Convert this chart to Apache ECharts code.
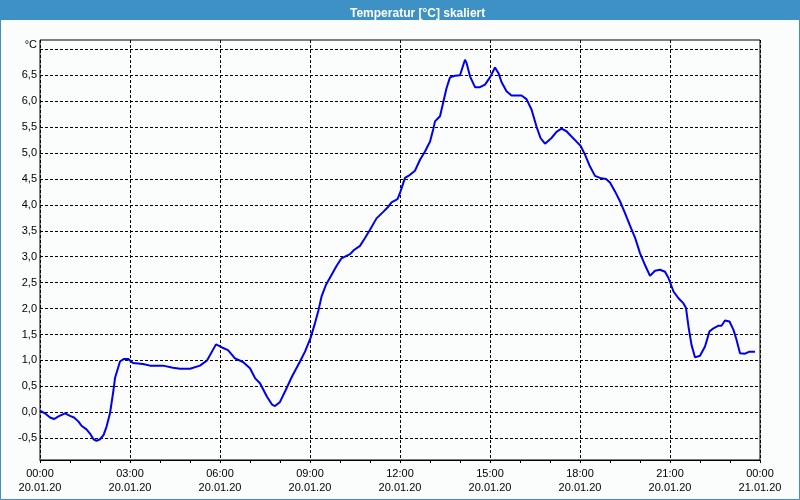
<!DOCTYPE html>
<html>
<head>
<meta charset="utf-8">
<script src="https://cdn.jsdelivr.net/npm/echarts@6/dist/echarts.min.js"></script>
<style>
html,body{margin:0;padding:0;background:#fafdfb;}
#c{width:800px;height:500px;}
</style>
</head>
<body>
<div id="c"></div>
<script>
// minutes since 20.01.20 00:00
var minutes = [0,10,20,28,37,50,60,68,77,83,93,100,107,113,120,127,133,140,147,150,160,168,176,186,206,220,246,266,280,300,320,334,352,364,376,390,406,420,430,440,454,464,470,480,490,504,520,530,541,550,557,563,572,583,593,603,620,628,640,650,660,673,687,697,703,715,720,730,740,750,760,770,780,787,790,800,807,813,820,830,840,850,853,860,870,880,890,900,910,917,923,933,943,963,973,983,993,1001,1010,1023,1033,1043,1053,1063,1073,1081,1090,1100,1110,1120,1132,1140,1150,1160,1170,1180,1190,1200,1210,1220,1230,1240,1250,1257,1267,1277,1287,1292,1297,1303,1310,1320,1330,1339,1347,1357,1363,1370,1379,1387,1393,1400,1410,1419,1430];
var temps = [0.03,-0.02,-0.10,-0.13,-0.08,-0.02,-0.07,-0.10,-0.18,-0.26,-0.33,-0.41,-0.52,-0.55,-0.52,-0.44,-0.28,-0.02,0.43,0.66,0.98,1.03,1.03,0.95,0.93,0.90,0.90,0.86,0.84,0.84,0.90,1.00,1.31,1.25,1.20,1.04,0.97,0.85,0.66,0.56,0.30,0.15,0.12,0.20,0.40,0.69,0.98,1.17,1.43,1.72,1.97,2.23,2.46,2.65,2.82,2.97,3.05,3.13,3.21,3.36,3.52,3.74,3.87,3.97,4.05,4.11,4.23,4.52,4.58,4.66,4.87,5.03,5.22,5.48,5.61,5.71,6.00,6.25,6.46,6.49,6.50,6.80,6.74,6.48,6.27,6.27,6.32,6.46,6.65,6.54,6.37,6.19,6.11,6.11,6.04,5.84,5.51,5.29,5.18,5.29,5.41,5.47,5.42,5.32,5.22,5.14,4.97,4.74,4.56,4.52,4.50,4.43,4.26,4.07,3.84,3.60,3.37,3.07,2.84,2.63,2.73,2.75,2.71,2.59,2.33,2.20,2.10,2.01,1.65,1.30,1.06,1.09,1.27,1.56,1.62,1.67,1.67,1.77,1.75,1.59,1.40,1.14,1.13,1.17,1.17];
var xTickTimes = ['00:00','03:00','06:00','09:00','12:00','15:00','18:00','21:00','00:00'];
var xTickDates = ['20.01.20','20.01.20','20.01.20','20.01.20','20.01.20','20.01.20','20.01.20','20.01.20','21.01.20'];
var yTickValues = [-0.5,0,0.5,1,1.5,2,2.5,3,3.5,4,4.5,5,5.5,6,6.5,7];
var yUnit = '°C';
var titleText = 'Temperatur [°C] skaliert';

var data = minutes.map(function(m,i){ return [m/60, temps[i]]; });
var chart = echarts.init(document.getElementById('c'), null, {renderer:'canvas'});
var F = 'Liberation Sans';
chart.setOption({
  backgroundColor:'#fafdfb',
  animation:false,
  title:{text:titleText,left:345,top:3,textStyle:{color:'#ffffff',fontFamily:F,fontWeight:'bold',fontSize:12}},
  graphic:[
    {type:'rect',z:-1,shape:{x:0,y:0,width:800,height:20},style:{fill:'#3d91c4'}},
    {type:'rect',z:-1,shape:{x:0.5,y:0.5,width:799,height:499},style:{fill:null,stroke:'#3d91c4',lineWidth:1}}
  ],
  grid:{left:40,right:40,top:40,bottom:40,show:true,borderColor:'#000',borderWidth:1,backgroundColor:'transparent'},
  xAxis:{type:'value',min:0,max:24,interval:3,
    axisLine:{show:true,onZero:false,lineStyle:{color:'#000',width:1}},
    axisTick:{show:true,inside:false,length:3,lineStyle:{color:'#000'}},
    minorTick:{show:true,splitNumber:3,length:3,lineStyle:{color:'#000'}},
    splitLine:{show:true,lineStyle:{color:'#000',type:[3,2],width:1}},
    axisLabel:{margin:7,color:'#000',fontFamily:F,fontSize:11,lineHeight:14,
      formatter:function(v){var i=Math.round(v/3);return xTickTimes[i]+'\n'+xTickDates[i];}}
  },
  yAxis:{type:'value',min:-0.92,max:7.18,
    axisLine:{show:false,onZero:false},
    axisTick:{show:false,customValues:yTickValues},
    splitLine:{show:true,lineStyle:{color:'#000',type:[3,2],width:1}},
    axisLabel:{customValues:yTickValues,margin:3,color:'#000',fontFamily:F,fontSize:11,
      formatter:function(v){ if(Math.abs(v-7)<1e-6) return '{u|'+yUnit+'}'; return v.toFixed(1).replace('.',','); },
      rich:{u:{fontFamily:F,fontSize:11,color:'#000',padding:[0,0,8,0]}}}
  },
  series:[{type:'line',data:data,showSymbol:false,symbol:'none',lineStyle:{color:'#0000f0',width:2},z:5}]
});
</script>
</body>
</html>
